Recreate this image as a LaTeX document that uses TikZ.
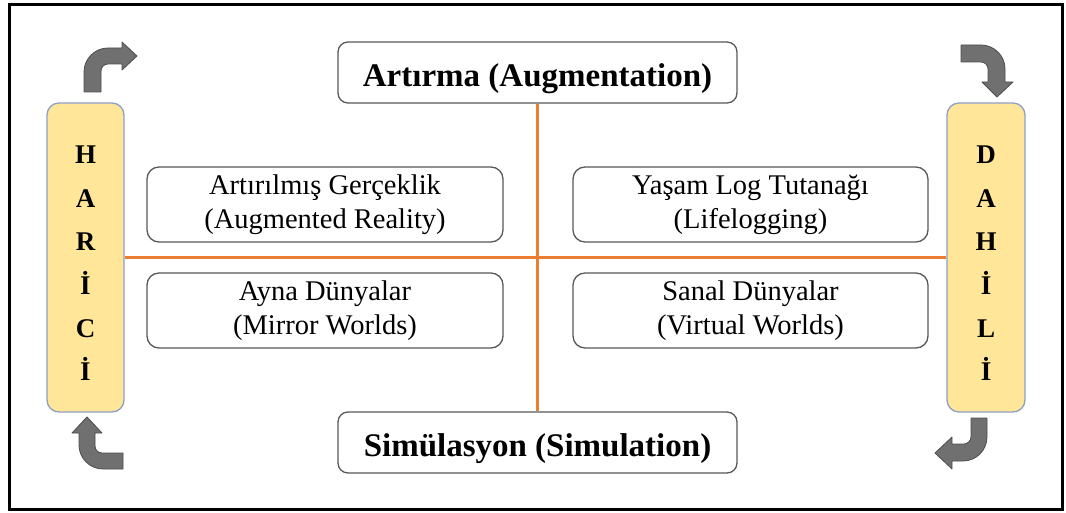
\documentclass[tikz,border=0pt]{standalone}
\usepackage{fontspec}
\setmainfont{Liberation Serif}
\definecolor{orangeline}{HTML}{ED7D31}
\definecolor{boxline}{HTML}{595959}
\definecolor{yellowfill}{HTML}{FFE699}
\definecolor{yellowline}{HTML}{8EA0C6}
\definecolor{arrowfill}{HTML}{707070}
\definecolor{arrowline}{HTML}{4D4D4D}
\tikzset{
  titlebox/.style={draw=boxline, line width=1.3pt, rounded corners=10pt, fill=white,
    minimum width=399pt, minimum height=61pt, inner sep=0pt,
    font=\fontsize{33}{38}\selectfont\bfseries, text height=28pt, text depth=0pt},
  itembox/.style={draw=boxline, line width=1.3pt, rounded corners=12pt, fill=white,
    minimum height=75pt, inner sep=0pt, align=center,
    font=\fontsize{28.5}{34}\selectfont, execute at begin node={\rule{0pt}{26pt}}},
  sidebox/.style={draw=yellowline, line width=1.3pt, rounded corners=12pt, fill=yellowfill,
    minimum width=77pt, minimum height=309pt, inner sep=0pt},
  sidetext/.style={align=center, inner sep=0pt,
    font=\fontsize{27}{43.4}\selectfont\bfseries},
  orange/.style={draw=orangeline, line width=2.4pt},
  bentarrow/.style={fill=arrowfill, draw=arrowline, line width=0.8pt, line join=round}
}
\begin{document}
\begin{tikzpicture}[x=1pt,y=-1pt]
\useasboundingbox (0,0) rectangle (1066,513);
\fill[white] (0,0) rectangle (1066,513);
\draw[black, line width=3pt] (9.5,4.5) rectangle (1062.5,509.5);

% side boxes
\node[sidebox] (harici) at (85.5,257.5) {};
\node[sidebox, minimum width=78pt] (dahili) at (986,257.5) {};
\node[sidetext] (haricitext) at (85.5,263.5) {H\\A\\R\\İ\\C\\İ};
\node[sidetext] (dahilitext) at (986,263.5) {D\\A\\H\\İ\\L\\İ};

% title boxes
\node[titlebox] (top) at (537.5,72.5) {Artırma (Augmentation)};
\node[titlebox] (bottom) at (537.5,442.5) {Simülasyon (Simulation)};

% orange axes
\draw[orange] (top.south) -- (bottom.north);
\draw[orange] (harici.east) -- (dahili.west);

% item boxes
\node[itembox, minimum width=356pt] (ar) at (325,204.5) {Artırılmış Gerçeklik\\(Augmented Reality)};
\node[itembox, minimum width=355pt] (ll) at (750.5,204.5) {Yaşam Log Tutanağı\\(Lifelogging)};
\node[itembox, minimum width=356pt] (mw) at (325,310.5) {Ayna Dünyalar\\(Mirror Worlds)};
\node[itembox, minimum width=355pt] (vw) at (750.5,310.5) {Sanal Dünyalar\\(Virtual Worlds)};

% bent block arrows
\draw[bentarrow] (84,92) -- (84,72) .. controls (84,58.75) and (94.75,48) .. (108,48)
  -- (122,48) -- (122,42) -- (137,56) -- (122,70) -- (122,64) -- (108,64)
  .. controls (104.13,64) and (101,67.13) .. (101,71) -- (101,92) -- cycle;
\draw[bentarrow] (87,417) -- (102,433) -- (95,433) -- (95,446)
  .. controls (95,449.87) and (98.13,453) .. (102,453) -- (123,453) -- (123,469) -- (103,469)
  .. controls (89.75,469) and (79,458.25) .. (79,445) -- (79,433) -- (72,433) -- cycle;
\draw[bentarrow] (961,45) -- (981,45) .. controls (994.25,45) and (1005,55.75) .. (1005,69)
  -- (1005,82) -- (1013,82) -- (997,97) -- (982,82) -- (988,82) -- (988,69)
  .. controls (988,65.13) and (984.87,62) .. (981,62) -- (961,62) -- cycle;
\draw[bentarrow] (971,418) -- (987,418) -- (987,437) .. controls (987,450.25) and (976.25,461) .. (963,461)
  -- (952,461) -- (952,469) -- (935,453) -- (952,437) -- (952,444) -- (964,444)
  .. controls (967.87,444) and (971,440.13) .. (971,437) -- cycle;
\end{tikzpicture}
\end{document}
